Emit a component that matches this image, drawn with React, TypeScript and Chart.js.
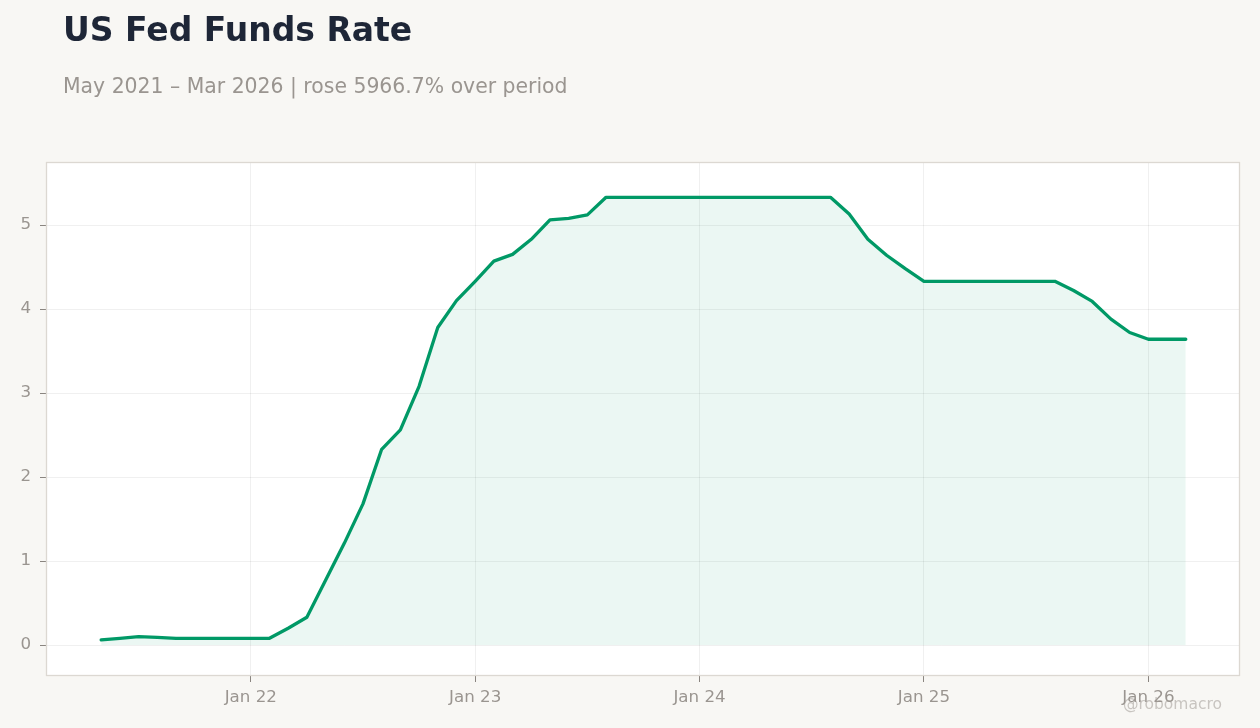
import React, { useEffect, useRef } from "react";
import { Chart, registerables } from "chart.js";

Chart.register(...registerables);

const months: string[] = [
  "2021-05", "2021-06", "2021-07", "2021-08", "2021-09", "2021-10", "2021-11", "2021-12",
  "2022-01", "2022-02", "2022-03", "2022-04", "2022-05", "2022-06", "2022-07", "2022-08", "2022-09", "2022-10", "2022-11", "2022-12",
  "2023-01", "2023-02", "2023-03", "2023-04", "2023-05", "2023-06", "2023-07", "2023-08", "2023-09", "2023-10", "2023-11", "2023-12",
  "2024-01", "2024-02", "2024-03", "2024-04", "2024-05", "2024-06", "2024-07", "2024-08", "2024-09", "2024-10", "2024-11", "2024-12",
  "2025-01", "2025-02", "2025-03", "2025-04", "2025-05", "2025-06", "2025-07", "2025-08", "2025-09", "2025-10", "2025-11", "2025-12",
  "2026-01", "2026-02", "2026-03",
];

const rates: number[] = [
  0.06, 0.08, 0.10, 0.09, 0.08, 0.08, 0.08, 0.08,
  0.08, 0.08, 0.20, 0.33, 0.77, 1.21, 1.68, 2.33, 2.56, 3.08, 3.78, 4.10,
  4.33, 4.57, 4.65, 4.83, 5.06, 5.08, 5.12, 5.33, 5.33, 5.33, 5.33, 5.33,
  5.33, 5.33, 5.33, 5.33, 5.33, 5.33, 5.33, 5.33, 5.13, 4.83, 4.64, 4.48,
  4.33, 4.33, 4.33, 4.33, 4.33, 4.33, 4.33, 4.33, 4.22, 4.09, 3.88, 3.72,
  3.64, 3.64, 3.64,
];

const xTickMonths: string[] = ["2022-01", "2023-01", "2024-01", "2025-01", "2026-01"];
const xTickLabels: string[] = ["Jan 22", "Jan 23", "Jan 24", "Jan 25", "Jan 26"];
const yTicks: number[] = [0, 1, 2, 3, 4, 5];

const TITLE = "US Fed Funds Rate";
const SUBTITLE = "May 2021 \u2013 Mar 2026 | rose 5966.7% over period";
const WATERMARK = "@robomacro";

const FONT = "'DejaVu Sans', sans-serif";

export default function App() {
  const ref = useRef<HTMLCanvasElement | null>(null);

  useEffect(() => {
    if (!ref.current) return;
    const tickIdx = xTickMonths.map((m) => months.indexOf(m));

    const areaPlugin = {
      id: "areaPlugin",
      beforeDraw(chart: any) {
        const { ctx, chartArea } = chart;
        ctx.save();
        ctx.fillStyle = "#ffffff";
        ctx.fillRect(chartArea.left, chartArea.top, chartArea.right - chartArea.left, chartArea.bottom - chartArea.top);
        ctx.restore();
      },
      afterDraw(chart: any) {
        const { ctx, chartArea } = chart;
        ctx.save();
        ctx.strokeStyle = "#dcd8d2";
        ctx.lineWidth = 1.3;
        ctx.strokeRect(
          Math.round(chartArea.left) + 0.5,
          Math.round(chartArea.top) + 0.5,
          Math.round(chartArea.right - chartArea.left) - 1,
          Math.round(chartArea.bottom - chartArea.top) - 1
        );
        ctx.restore();
      },
    };

    const chart = new Chart(ref.current, {
      type: "line",
      data: {
        datasets: [
          {
            data: rates.map((v, i) => ({ x: i, y: v })),
            borderColor: "rgb(0,153,102)",
            backgroundColor: "rgba(0,150,100,0.08)",
            borderWidth: 3.3,
            pointRadius: 0,
            tension: 0,
            fill: "origin",
            borderJoinStyle: "round",
            borderCapStyle: "round",
          },
        ],
      },
      options: {
        animation: false,
        responsive: false,
        layout: { padding: { left: 0, top: 162, right: 20, bottom: 0 } },
        plugins: { legend: { display: false }, tooltip: { enabled: false } },
        scales: {
          x: {
            type: "linear",
            min: -2.95,
            max: 60.9,
            afterBuildTicks: (scale: any) => {
              scale.ticks = tickIdx.map((v) => ({ value: v }));
            },
            afterFit: (scale: any) => {
              scale.height = 52;
            },
            ticks: {
              callback: (v: any) => {
                const k = tickIdx.indexOf(Number(v));
                return k >= 0 ? xTickLabels[k] : "";
              },
              color: "#9a9590",
              font: { family: FONT, size: 16.7 },
              padding: 6,
              maxRotation: 0,
              autoSkip: false,
            },
            grid: {
              color: "rgba(0,0,0,0.06)",
              tickColor: "#8a8580",
              tickLength: 6,
              drawTicks: true,
            },
            border: { display: false },
          },
          y: {
            type: "linear",
            min: -0.369,
            max: 5.75,
            afterBuildTicks: (scale: any) => {
              scale.ticks = yTicks.map((v) => ({ value: v }));
            },
            afterFit: (scale: any) => {
              scale.width = 46;
            },
            ticks: {
              color: "#9a9590",
              font: { family: FONT, size: 16.7 },
              padding: 9,
            },
            grid: {
              color: "rgba(0,0,0,0.06)",
              tickColor: "#8a8580",
              tickLength: 6,
              drawTicks: true,
            },
            border: { display: false },
          },
        },
      },
      plugins: [areaPlugin],
    } as any);

    return () => chart.destroy();
  }, []);

  return (
    <div
      style={{
        position: "fixed",
        left: 0,
        top: 0,
        width: 1260,
        height: 728,
        background: "#f8f7f4",
        overflow: "hidden",
        fontFamily: FONT,
      }}
    >
      <canvas ref={ref} width={1260} height={728} style={{ position: "absolute", left: 0, top: 0 }} />
      <div
        style={{
          position: "absolute",
          left: 63,
          top: 10,
          fontSize: 33,
          fontWeight: "bold",
          color: "#1e2637",
          whiteSpace: "nowrap",
          lineHeight: "normal",
        }}
      >
        {TITLE}
      </div>
      <div
        style={{
          position: "absolute",
          left: 63,
          top: 74,
          fontSize: 20.4,
          color: "#9a9590",
          whiteSpace: "nowrap",
          lineHeight: "normal",
        }}
      >
        {SUBTITLE}
      </div>
      <div
        style={{
          position: "absolute",
          right: 38,
          top: 695,
          fontSize: 15.5,
          color: "rgba(160,155,150,0.55)",
          whiteSpace: "nowrap",
          lineHeight: "normal",
        }}
      >
        {WATERMARK}
      </div>
    </div>
  );
}
